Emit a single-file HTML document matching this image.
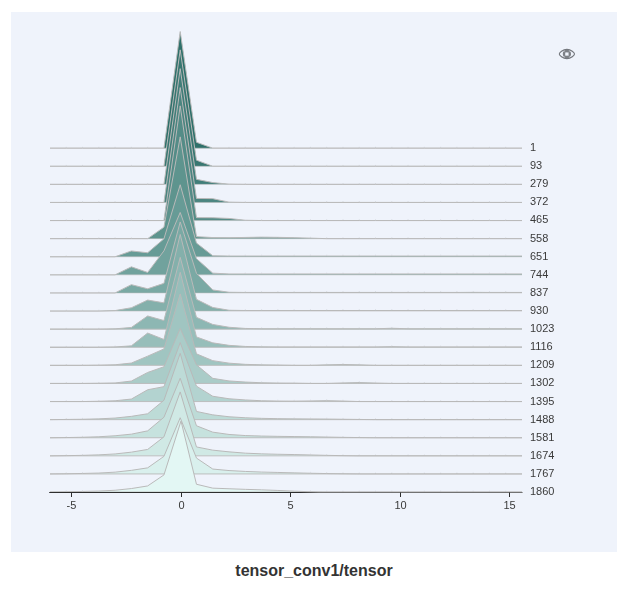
<!DOCTYPE html>
<html><head><meta charset="utf-8"><title>tensor_conv1/tensor</title>
<style>
html,body{margin:0;padding:0;background:#fff;}
body{width:629px;height:590px;position:relative;overflow:hidden;font-family:"Liberation Sans",sans-serif;}
#panel{position:absolute;left:11px;top:12px;width:606px;height:540px;background:#eff3fb;}
svg{position:absolute;left:0;top:0;will-change:transform;}
svg text{font-family:"Liberation Sans",sans-serif;font-size:11px;fill:#3a3a3a;}
#title{position:absolute;left:0;top:561px;width:628px;text-align:center;font-weight:bold;font-size:16px;line-height:20px;color:#333;}
</style></head><body>
<div id="panel"></div>
<svg width="629" height="556" viewBox="0 0 629 556">
<g id="ridges">
<polygon points="50.00,148.15 66.28,148.15 82.55,148.15 98.83,148.15 115.10,148.15 131.38,148.15 147.66,148.15 163.93,148.15 180.21,31.55 196.48,142.25 212.76,148.15 229.04,148.15 245.31,148.15 261.59,148.15 277.86,148.15 294.14,148.15 310.42,148.15 326.69,148.15 342.97,148.15 359.24,148.15 375.52,148.15 391.80,148.15 408.07,148.15 424.35,148.15 440.62,148.15 456.90,148.15 473.18,148.15 489.45,148.15 505.73,148.15 522.00,148.15 522.00,148.15 50.00,148.15" fill="#2e706a"/>
<line x1="50.00" y1="148.15" x2="522.00" y2="148.15" stroke="#b9b9b9" stroke-opacity="0.55"/>
<polyline points="50.00,148.15 66.28,148.15 82.55,148.15 98.83,148.15 115.10,148.15 131.38,148.15 147.66,148.15 163.93,148.15 180.21,31.55 196.48,142.25 212.76,148.15 229.04,148.15 245.31,148.15 261.59,148.15 277.86,148.15 294.14,148.15 310.42,148.15 326.69,148.15 342.97,148.15 359.24,148.15 375.52,148.15 391.80,148.15 408.07,148.15 424.35,148.15 440.62,148.15 456.90,148.15 473.18,148.15 489.45,148.15 505.73,148.15 522.00,148.15" fill="none" stroke="#b9b9b9" stroke-width="1" stroke-linejoin="miter"/>
<polygon points="50.00,166.25 66.28,166.25 82.55,166.25 98.83,166.25 115.10,166.25 131.38,166.25 147.66,166.25 163.93,166.25 180.21,49.85 196.48,160.15 212.76,166.25 229.04,166.25 245.31,166.25 261.59,166.25 277.86,166.25 294.14,166.25 310.42,166.25 326.69,166.25 342.97,166.25 359.24,166.25 375.52,166.25 391.80,166.25 408.07,166.25 424.35,166.25 440.62,166.25 456.90,166.25 473.18,166.25 489.45,166.25 505.73,166.25 522.00,166.25 522.00,166.25 50.00,166.25" fill="#387771"/>
<line x1="50.00" y1="166.25" x2="522.00" y2="166.25" stroke="#b9b9b9" stroke-opacity="0.55"/>
<polyline points="50.00,166.25 66.28,166.25 82.55,166.25 98.83,166.25 115.10,166.25 131.38,166.25 147.66,166.25 163.93,166.25 180.21,49.85 196.48,160.15 212.76,166.25 229.04,166.25 245.31,166.25 261.59,166.25 277.86,166.25 294.14,166.25 310.42,166.25 326.69,166.25 342.97,166.25 359.24,166.25 375.52,166.25 391.80,166.25 408.07,166.25 424.35,166.25 440.62,166.25 456.90,166.25 473.18,166.25 489.45,166.25 505.73,166.25 522.00,166.25" fill="none" stroke="#b9b9b9" stroke-width="1" stroke-linejoin="miter"/>
<polygon points="50.00,184.35 66.28,184.35 82.55,184.35 98.83,184.35 115.10,184.35 131.38,184.35 147.66,184.35 163.93,184.35 180.21,68.65 196.48,179.35 212.76,182.55 229.04,184.15 245.31,184.35 261.59,184.35 277.86,184.35 294.14,184.35 310.42,184.35 326.69,184.35 342.97,184.35 359.24,184.35 375.52,184.35 391.80,184.35 408.07,184.35 424.35,184.35 440.62,184.35 456.90,184.35 473.18,184.35 489.45,184.35 505.73,184.35 522.00,184.35 522.00,184.35 50.00,184.35" fill="#417e79"/>
<line x1="50.00" y1="184.35" x2="522.00" y2="184.35" stroke="#b9b9b9" stroke-opacity="0.55"/>
<polyline points="50.00,184.35 66.28,184.35 82.55,184.35 98.83,184.35 115.10,184.35 131.38,184.35 147.66,184.35 163.93,184.35 180.21,68.65 196.48,179.35 212.76,182.55 229.04,184.15 245.31,184.35 261.59,184.35 277.86,184.35 294.14,184.35 310.42,184.35 326.69,184.35 342.97,184.35 359.24,184.35 375.52,184.35 391.80,184.35 408.07,184.35 424.35,184.35 440.62,184.35 456.90,184.35 473.18,184.35 489.45,184.35 505.73,184.35 522.00,184.35" fill="none" stroke="#b9b9b9" stroke-width="1" stroke-linejoin="miter"/>
<polygon points="50.00,202.45 66.28,202.45 82.55,202.45 98.83,202.45 115.10,202.45 131.38,202.45 147.66,202.45 163.93,202.45 180.21,87.55 196.48,198.45 212.76,198.65 229.04,202.15 245.31,202.45 261.59,202.45 277.86,202.45 294.14,202.45 310.42,202.45 326.69,202.45 342.97,202.45 359.24,202.45 375.52,202.45 391.80,202.45 408.07,202.45 424.35,202.45 440.62,202.45 456.90,202.45 473.18,202.45 489.45,202.45 505.73,202.45 522.00,202.45 522.00,202.45 50.00,202.45" fill="#4b8580"/>
<line x1="50.00" y1="202.45" x2="522.00" y2="202.45" stroke="#b9b9b9" stroke-opacity="0.55"/>
<polyline points="50.00,202.45 66.28,202.45 82.55,202.45 98.83,202.45 115.10,202.45 131.38,202.45 147.66,202.45 163.93,202.45 180.21,87.55 196.48,198.45 212.76,198.65 229.04,202.15 245.31,202.45 261.59,202.45 277.86,202.45 294.14,202.45 310.42,202.45 326.69,202.45 342.97,202.45 359.24,202.45 375.52,202.45 391.80,202.45 408.07,202.45 424.35,202.45 440.62,202.45 456.90,202.45 473.18,202.45 489.45,202.45 505.73,202.45 522.00,202.45" fill="none" stroke="#b9b9b9" stroke-width="1" stroke-linejoin="miter"/>
<polygon points="50.00,220.55 66.28,220.55 82.55,220.55 98.83,220.55 115.10,220.55 131.38,220.55 147.66,220.55 163.93,220.55 180.21,105.85 196.48,217.65 212.76,217.75 229.04,218.45 245.31,220.25 261.59,220.55 277.86,220.55 294.14,220.55 310.42,220.55 326.69,220.55 342.97,220.55 359.24,220.55 375.52,220.55 391.80,220.55 408.07,220.55 424.35,220.55 440.62,220.55 456.90,220.55 473.18,220.55 489.45,220.55 505.73,220.55 522.00,220.55 522.00,220.55 50.00,220.55" fill="#548c87"/>
<line x1="50.00" y1="220.55" x2="522.00" y2="220.55" stroke="#b9b9b9" stroke-opacity="0.55"/>
<polyline points="50.00,220.55 66.28,220.55 82.55,220.55 98.83,220.55 115.10,220.55 131.38,220.55 147.66,220.55 163.93,220.55 180.21,105.85 196.48,217.65 212.76,217.75 229.04,218.45 245.31,220.25 261.59,220.55 277.86,220.55 294.14,220.55 310.42,220.55 326.69,220.55 342.97,220.55 359.24,220.55 375.52,220.55 391.80,220.55 408.07,220.55 424.35,220.55 440.62,220.55 456.90,220.55 473.18,220.55 489.45,220.55 505.73,220.55 522.00,220.55" fill="none" stroke="#b9b9b9" stroke-width="1" stroke-linejoin="miter"/>
<polygon points="50.00,238.65 66.28,238.65 82.55,238.65 98.83,238.65 115.10,238.65 131.38,238.65 147.66,238.65 163.93,227.15 180.21,136.85 196.48,236.65 212.76,237.55 229.04,237.65 245.31,237.45 261.59,237.15 277.86,237.35 294.14,237.65 310.42,238.15 326.69,238.65 342.97,238.65 359.24,238.65 375.52,238.65 391.80,238.65 408.07,238.65 424.35,238.65 440.62,238.65 456.90,238.65 473.18,238.65 489.45,238.65 505.73,238.65 522.00,238.65 522.00,238.65 50.00,238.65" fill="#5e948e"/>
<line x1="50.00" y1="238.65" x2="522.00" y2="238.65" stroke="#b9b9b9" stroke-opacity="0.55"/>
<polyline points="50.00,238.65 66.28,238.65 82.55,238.65 98.83,238.65 115.10,238.65 131.38,238.65 147.66,238.65 163.93,227.15 180.21,136.85 196.48,236.65 212.76,237.55 229.04,237.65 245.31,237.45 261.59,237.15 277.86,237.35 294.14,237.65 310.42,238.15 326.69,238.65 342.97,238.65 359.24,238.65 375.52,238.65 391.80,238.65 408.07,238.65 424.35,238.65 440.62,238.65 456.90,238.65 473.18,238.65 489.45,238.65 505.73,238.65 522.00,238.65" fill="none" stroke="#b9b9b9" stroke-width="1" stroke-linejoin="miter"/>
<polygon points="50.00,256.75 66.28,256.75 82.55,256.75 98.83,256.75 115.10,256.75 131.38,250.95 147.66,252.75 163.93,238.85 180.21,184.75 196.48,243.05 212.76,255.75 229.04,256.05 245.31,256.05 261.59,256.05 277.86,256.05 294.14,256.05 310.42,256.05 326.69,256.05 342.97,256.05 359.24,256.05 375.52,256.05 391.80,256.05 408.07,256.05 424.35,256.05 440.62,256.05 456.90,256.05 473.18,256.05 489.45,256.05 505.73,256.05 522.00,256.05 522.00,256.75 50.00,256.75" fill="#679b96"/>
<line x1="50.00" y1="256.75" x2="522.00" y2="256.75" stroke="#b9b9b9" stroke-opacity="0.55"/>
<polyline points="50.00,256.75 66.28,256.75 82.55,256.75 98.83,256.75 115.10,256.75 131.38,250.95 147.66,252.75 163.93,238.85 180.21,184.75 196.48,243.05 212.76,255.75 229.04,256.05 245.31,256.05 261.59,256.05 277.86,256.05 294.14,256.05 310.42,256.05 326.69,256.05 342.97,256.05 359.24,256.05 375.52,256.05 391.80,256.05 408.07,256.05 424.35,256.05 440.62,256.05 456.90,256.05 473.18,256.05 489.45,256.05 505.73,256.05 522.00,256.05" fill="none" stroke="#b9b9b9" stroke-width="1" stroke-linejoin="miter"/>
<polygon points="50.00,274.85 66.28,274.85 82.55,274.85 98.83,274.85 115.10,274.85 131.38,266.85 147.66,272.45 163.93,250.85 180.21,212.45 196.48,258.65 212.76,273.15 229.04,273.95 245.31,273.95 261.59,273.95 277.86,273.95 294.14,273.95 310.42,273.95 326.69,273.95 342.97,273.95 359.24,273.95 375.52,273.95 391.80,273.95 408.07,273.95 424.35,273.95 440.62,273.95 456.90,273.95 473.18,273.95 489.45,273.95 505.73,273.95 522.00,273.95 522.00,274.85 50.00,274.85" fill="#71a29d"/>
<line x1="50.00" y1="274.85" x2="522.00" y2="274.85" stroke="#b9b9b9" stroke-opacity="0.55"/>
<polyline points="50.00,274.85 66.28,274.85 82.55,274.85 98.83,274.85 115.10,274.85 131.38,266.85 147.66,272.45 163.93,250.85 180.21,212.45 196.48,258.65 212.76,273.15 229.04,273.95 245.31,273.95 261.59,273.95 277.86,273.95 294.14,273.95 310.42,273.95 326.69,273.95 342.97,273.95 359.24,273.95 375.52,273.95 391.80,273.95 408.07,273.95 424.35,273.95 440.62,273.95 456.90,273.95 473.18,273.95 489.45,273.95 505.73,273.95 522.00,273.95" fill="none" stroke="#b9b9b9" stroke-width="1" stroke-linejoin="miter"/>
<polygon points="50.00,292.95 66.28,292.95 82.55,292.95 98.83,292.95 115.10,292.95 131.38,284.65 147.66,288.75 163.93,283.35 180.21,221.95 196.48,273.35 212.76,289.95 229.04,292.25 245.31,292.45 261.59,292.45 277.86,292.45 294.14,292.45 310.42,292.45 326.69,292.45 342.97,292.45 359.24,292.45 375.52,292.45 391.80,292.45 408.07,292.45 424.35,292.45 440.62,292.45 456.90,292.45 473.18,292.35 489.45,292.45 505.73,292.45 522.00,292.45 522.00,292.95 50.00,292.95" fill="#7aa9a4"/>
<line x1="50.00" y1="292.95" x2="522.00" y2="292.95" stroke="#b9b9b9" stroke-opacity="0.55"/>
<polyline points="50.00,292.95 66.28,292.95 82.55,292.95 98.83,292.95 115.10,292.95 131.38,284.65 147.66,288.75 163.93,283.35 180.21,221.95 196.48,273.35 212.76,289.95 229.04,292.25 245.31,292.45 261.59,292.45 277.86,292.45 294.14,292.45 310.42,292.45 326.69,292.45 342.97,292.45 359.24,292.45 375.52,292.45 391.80,292.45 408.07,292.45 424.35,292.45 440.62,292.45 456.90,292.45 473.18,292.35 489.45,292.45 505.73,292.45 522.00,292.45" fill="none" stroke="#b9b9b9" stroke-width="1" stroke-linejoin="miter"/>
<polygon points="50.00,311.05 66.28,311.05 82.55,311.05 98.83,311.05 115.10,310.55 131.38,307.75 147.66,300.05 163.93,302.85 180.21,234.45 196.48,299.35 212.76,307.45 229.04,310.25 245.31,310.50 261.59,310.50 277.86,310.50 294.14,310.50 310.42,310.50 326.69,310.50 342.97,310.50 359.24,310.50 375.52,310.50 391.80,310.50 408.07,310.50 424.35,310.50 440.62,310.50 456.90,310.50 473.18,310.50 489.45,310.50 505.73,310.50 522.00,310.50 522.00,311.05 50.00,311.05" fill="#84b0ab"/>
<line x1="50.00" y1="311.05" x2="522.00" y2="311.05" stroke="#b9b9b9" stroke-opacity="0.55"/>
<polyline points="50.00,311.05 66.28,311.05 82.55,311.05 98.83,311.05 115.10,310.55 131.38,307.75 147.66,300.05 163.93,302.85 180.21,234.45 196.48,299.35 212.76,307.45 229.04,310.25 245.31,310.50 261.59,310.50 277.86,310.50 294.14,310.50 310.42,310.50 326.69,310.50 342.97,310.50 359.24,310.50 375.52,310.50 391.80,310.50 408.07,310.50 424.35,310.50 440.62,310.50 456.90,310.50 473.18,310.50 489.45,310.50 505.73,310.50 522.00,310.50" fill="none" stroke="#b9b9b9" stroke-width="1" stroke-linejoin="miter"/>
<polygon points="50.00,329.15 66.28,329.15 82.55,329.15 98.83,329.15 115.10,328.85 131.38,327.45 147.66,315.95 163.93,320.55 180.21,257.35 196.48,317.35 212.76,324.45 229.04,327.25 245.31,328.45 261.59,328.75 277.86,328.75 294.14,328.75 310.42,328.75 326.69,328.75 342.97,328.75 359.24,328.75 375.52,328.75 391.80,328.25 408.07,328.75 424.35,328.75 440.62,328.75 456.90,328.75 473.18,328.75 489.45,328.75 505.73,328.75 522.00,328.75 522.00,329.15 50.00,329.15" fill="#8db7b3"/>
<line x1="50.00" y1="329.15" x2="522.00" y2="329.15" stroke="#b9b9b9" stroke-opacity="0.9"/>
<polyline points="50.00,329.15 66.28,329.15 82.55,329.15 98.83,329.15 115.10,328.85 131.38,327.45 147.66,315.95 163.93,320.55 180.21,257.35 196.48,317.35 212.76,324.45 229.04,327.25 245.31,328.45 261.59,328.75 277.86,328.75 294.14,328.75 310.42,328.75 326.69,328.75 342.97,328.75 359.24,328.75 375.52,328.75 391.80,328.25 408.07,328.75 424.35,328.75 440.62,328.75 456.90,328.75 473.18,328.75 489.45,328.75 505.73,328.75 522.00,328.75" fill="none" stroke="#b9b9b9" stroke-width="1" stroke-linejoin="miter"/>
<polygon points="50.00,347.25 66.28,347.25 82.55,347.25 98.83,347.25 115.10,346.95 131.38,345.85 147.66,333.05 163.93,339.45 180.21,272.25 196.48,336.95 212.76,342.85 229.04,345.35 245.31,346.45 261.59,346.85 277.86,346.95 294.14,346.95 310.42,346.95 326.69,346.95 342.97,346.95 359.24,346.95 375.52,346.95 391.80,346.65 408.07,346.95 424.35,346.95 440.62,346.95 456.90,346.95 473.18,346.95 489.45,346.95 505.73,346.95 522.00,346.95 522.00,347.25 50.00,347.25" fill="#97beba"/>
<line x1="50.00" y1="347.25" x2="522.00" y2="347.25" stroke="#b9b9b9" stroke-opacity="0.9"/>
<polyline points="50.00,347.25 66.28,347.25 82.55,347.25 98.83,347.25 115.10,346.95 131.38,345.85 147.66,333.05 163.93,339.45 180.21,272.25 196.48,336.95 212.76,342.85 229.04,345.35 245.31,346.45 261.59,346.85 277.86,346.95 294.14,346.95 310.42,346.95 326.69,346.95 342.97,346.95 359.24,346.95 375.52,346.95 391.80,346.65 408.07,346.95 424.35,346.95 440.62,346.95 456.90,346.95 473.18,346.95 489.45,346.95 505.73,346.95 522.00,346.95" fill="none" stroke="#b9b9b9" stroke-width="1" stroke-linejoin="miter"/>
<polygon points="50.00,365.35 66.28,365.35 82.55,365.35 98.83,365.15 115.10,364.75 131.38,363.05 147.66,356.15 163.93,348.95 180.21,293.85 196.48,353.85 212.76,360.65 229.04,363.15 245.31,364.35 261.59,364.85 277.86,365.05 294.14,365.35 310.42,365.35 326.69,364.85 342.97,364.45 359.24,364.85 375.52,365.35 391.80,365.35 408.07,365.35 424.35,365.35 440.62,365.35 456.90,365.35 473.18,365.35 489.45,365.35 505.73,365.35 522.00,365.35 522.00,365.35 50.00,365.35" fill="#a0c5c1"/>
<line x1="50.00" y1="365.35" x2="522.00" y2="365.35" stroke="#b9b9b9" stroke-opacity="0.9"/>
<polyline points="50.00,365.35 66.28,365.35 82.55,365.35 98.83,365.15 115.10,364.75 131.38,363.05 147.66,356.15 163.93,348.95 180.21,293.85 196.48,353.85 212.76,360.65 229.04,363.15 245.31,364.35 261.59,364.85 277.86,365.05 294.14,365.35 310.42,365.35 326.69,364.85 342.97,364.45 359.24,364.85 375.52,365.35 391.80,365.35 408.07,365.35 424.35,365.35 440.62,365.35 456.90,365.35 473.18,365.35 489.45,365.35 505.73,365.35 522.00,365.35" fill="none" stroke="#b9b9b9" stroke-width="1" stroke-linejoin="miter"/>
<polygon points="50.00,383.45 66.28,383.45 82.55,383.45 98.83,383.25 115.10,382.95 131.38,381.05 147.66,372.45 163.93,366.75 180.21,328.45 196.48,364.85 212.76,378.35 229.04,380.95 245.31,382.05 261.59,382.75 277.86,383.05 294.14,383.15 310.42,383.45 326.69,383.45 342.97,382.95 359.24,382.55 375.52,383.05 391.80,383.45 408.07,383.45 424.35,383.45 440.62,383.45 456.90,383.45 473.18,383.45 489.45,383.45 505.73,383.45 522.00,383.45 522.00,383.45 50.00,383.45" fill="#aaccc8"/>
<line x1="50.00" y1="383.45" x2="522.00" y2="383.45" stroke="#b9b9b9" stroke-opacity="0.9"/>
<polyline points="50.00,383.45 66.28,383.45 82.55,383.45 98.83,383.25 115.10,382.95 131.38,381.05 147.66,372.45 163.93,366.75 180.21,328.45 196.48,364.85 212.76,378.35 229.04,380.95 245.31,382.05 261.59,382.75 277.86,383.05 294.14,383.15 310.42,383.45 326.69,383.45 342.97,382.95 359.24,382.55 375.52,383.05 391.80,383.45 408.07,383.45 424.35,383.45 440.62,383.45 456.90,383.45 473.18,383.45 489.45,383.45 505.73,383.45 522.00,383.45" fill="none" stroke="#b9b9b9" stroke-width="1" stroke-linejoin="miter"/>
<polygon points="50.00,401.55 66.28,401.55 82.55,401.55 98.83,401.25 115.10,400.75 131.38,399.05 147.66,389.75 163.93,386.65 180.21,342.65 196.48,386.15 212.76,396.25 229.04,398.75 245.31,399.95 261.59,400.75 277.86,401.05 294.14,401.15 310.42,400.95 326.69,400.65 342.97,401.05 359.24,401.55 375.52,401.55 391.80,401.55 408.07,401.55 424.35,401.55 440.62,401.55 456.90,401.55 473.18,401.55 489.45,401.55 505.73,401.55 522.00,401.55 522.00,401.55 50.00,401.55" fill="#b3d3d0"/>
<line x1="50.00" y1="401.55" x2="522.00" y2="401.55" stroke="#b9b9b9" stroke-opacity="0.9"/>
<polyline points="50.00,401.55 66.28,401.55 82.55,401.55 98.83,401.25 115.10,400.75 131.38,399.05 147.66,389.75 163.93,386.65 180.21,342.65 196.48,386.15 212.76,396.25 229.04,398.75 245.31,399.95 261.59,400.75 277.86,401.05 294.14,401.15 310.42,400.95 326.69,400.65 342.97,401.05 359.24,401.55 375.52,401.55 391.80,401.55 408.07,401.55 424.35,401.55 440.62,401.55 456.90,401.55 473.18,401.55 489.45,401.55 505.73,401.55 522.00,401.55" fill="none" stroke="#b9b9b9" stroke-width="1" stroke-linejoin="miter"/>
<polygon points="50.00,419.65 66.28,419.45 82.55,419.25 98.83,418.85 115.10,418.05 131.38,416.35 147.66,413.75 163.93,400.25 180.21,353.35 196.48,411.45 212.76,414.85 229.04,416.75 245.31,417.75 261.59,418.35 277.86,418.65 294.14,418.85 310.42,418.95 326.69,419.05 342.97,419.25 359.24,419.45 375.52,419.65 391.80,419.65 408.07,419.65 424.35,419.65 440.62,419.65 456.90,419.65 473.18,419.65 489.45,419.65 505.73,419.65 522.00,419.65 522.00,419.65 50.00,419.65" fill="#bddbd7"/>
<line x1="50.00" y1="419.65" x2="522.00" y2="419.65" stroke="#b9b9b9" stroke-opacity="0.9"/>
<polyline points="50.00,419.65 66.28,419.45 82.55,419.25 98.83,418.85 115.10,418.05 131.38,416.35 147.66,413.75 163.93,400.25 180.21,353.35 196.48,411.45 212.76,414.85 229.04,416.75 245.31,417.75 261.59,418.35 277.86,418.65 294.14,418.85 310.42,418.95 326.69,419.05 342.97,419.25 359.24,419.45 375.52,419.65 391.80,419.65 408.07,419.65 424.35,419.65 440.62,419.65 456.90,419.65 473.18,419.65 489.45,419.65 505.73,419.65 522.00,419.65" fill="none" stroke="#b9b9b9" stroke-width="1" stroke-linejoin="miter"/>
<polygon points="50.00,437.75 66.28,437.55 82.55,437.25 98.83,436.75 115.10,435.75 131.38,434.15 147.66,430.85 163.93,417.25 180.21,378.25 196.48,425.75 212.76,432.15 229.04,434.45 245.31,435.55 261.59,436.05 277.86,436.35 294.14,436.55 310.42,436.75 326.69,437.05 342.97,437.35 359.24,437.55 375.52,437.75 391.80,437.75 408.07,437.75 424.35,437.75 440.62,437.75 456.90,437.75 473.18,437.75 489.45,437.75 505.73,437.75 522.00,437.75 522.00,437.75 50.00,437.75" fill="#c6e2de"/>
<line x1="50.00" y1="437.75" x2="522.00" y2="437.75" stroke="#b9b9b9" stroke-opacity="0.9"/>
<polyline points="50.00,437.75 66.28,437.55 82.55,437.25 98.83,436.75 115.10,435.75 131.38,434.15 147.66,430.85 163.93,417.25 180.21,378.25 196.48,425.75 212.76,432.15 229.04,434.45 245.31,435.55 261.59,436.05 277.86,436.35 294.14,436.55 310.42,436.75 326.69,437.05 342.97,437.35 359.24,437.55 375.52,437.75 391.80,437.75 408.07,437.75 424.35,437.75 440.62,437.75 456.90,437.75 473.18,437.75 489.45,437.75 505.73,437.75 522.00,437.75" fill="none" stroke="#b9b9b9" stroke-width="1" stroke-linejoin="miter"/>
<polygon points="50.00,455.85 66.28,455.65 82.55,455.35 98.83,454.85 115.10,453.95 131.38,452.15 147.66,449.45 163.93,436.85 180.21,391.95 196.48,446.95 212.76,450.15 229.04,451.85 245.31,453.15 261.59,453.85 277.86,454.25 294.14,454.55 310.42,454.95 326.69,455.35 342.97,455.65 359.24,455.85 375.52,455.85 391.80,455.85 408.07,455.85 424.35,455.85 440.62,455.85 456.90,455.85 473.18,455.85 489.45,455.85 505.73,455.85 522.00,455.85 522.00,455.85 50.00,455.85" fill="#d0e9e5"/>
<line x1="50.00" y1="455.85" x2="522.00" y2="455.85" stroke="#b9b9b9" stroke-opacity="0.9"/>
<polyline points="50.00,455.85 66.28,455.65 82.55,455.35 98.83,454.85 115.10,453.95 131.38,452.15 147.66,449.45 163.93,436.85 180.21,391.95 196.48,446.95 212.76,450.15 229.04,451.85 245.31,453.15 261.59,453.85 277.86,454.25 294.14,454.55 310.42,454.95 326.69,455.35 342.97,455.65 359.24,455.85 375.52,455.85 391.80,455.85 408.07,455.85 424.35,455.85 440.62,455.85 456.90,455.85 473.18,455.85 489.45,455.85 505.73,455.85 522.00,455.85" fill="none" stroke="#b9b9b9" stroke-width="1" stroke-linejoin="miter"/>
<polygon points="50.00,473.95 66.28,473.75 82.55,473.45 98.83,473.05 115.10,472.15 131.38,470.35 147.66,467.85 163.93,456.35 180.21,417.75 196.48,458.05 212.76,469.05 229.04,470.55 245.31,471.45 261.59,472.05 277.86,472.45 294.14,472.85 310.42,473.25 326.69,473.55 342.97,473.75 359.24,473.95 375.52,473.95 391.80,473.95 408.07,473.95 424.35,473.95 440.62,473.95 456.90,473.95 473.18,473.95 489.45,473.95 505.73,473.95 522.00,473.95 522.00,473.95 50.00,473.95" fill="#d9f0ed"/>
<line x1="50.00" y1="473.95" x2="522.00" y2="473.95" stroke="#b9b9b9" stroke-opacity="0.9"/>
<polyline points="50.00,473.95 66.28,473.75 82.55,473.45 98.83,473.05 115.10,472.15 131.38,470.35 147.66,467.85 163.93,456.35 180.21,417.75 196.48,458.05 212.76,469.05 229.04,470.55 245.31,471.45 261.59,472.05 277.86,472.45 294.14,472.85 310.42,473.25 326.69,473.55 342.97,473.75 359.24,473.95 375.52,473.95 391.80,473.95 408.07,473.95 424.35,473.95 440.62,473.95 456.90,473.95 473.18,473.95 489.45,473.95 505.73,473.95 522.00,473.95" fill="none" stroke="#b9b9b9" stroke-width="1" stroke-linejoin="miter"/>
<polygon points="50.00,492.05 66.28,491.75 82.55,491.45 98.83,491.05 115.10,490.25 131.38,488.55 147.66,485.95 163.93,474.95 181.01,421.05 196.48,484.25 212.76,488.15 229.04,488.75 245.31,489.35 261.59,489.85 277.86,490.45 294.14,491.15 310.42,491.75 326.69,492.05 342.97,492.05 359.24,492.05 375.52,492.05 391.80,492.05 408.07,492.05 424.35,492.05 440.62,492.05 456.90,492.05 473.18,492.05 489.45,492.05 505.73,492.05 522.00,492.05 522.00,492.05 50.00,492.05" fill="#e3f7f4"/>
<line x1="50.00" y1="492.05" x2="522.00" y2="492.05" stroke="#b9b9b9" stroke-opacity="0.9"/>
<polyline points="50.00,492.05 66.28,491.75 82.55,491.45 98.83,491.05 115.10,490.25 131.38,488.55 147.66,485.95 163.93,474.95 181.01,421.05 196.48,484.25 212.76,488.15 229.04,488.75 245.31,489.35 261.59,489.85 277.86,490.45 294.14,491.15 310.42,491.75 326.69,492.05 342.97,492.05 359.24,492.05 375.52,492.05 391.80,492.05 408.07,492.05 424.35,492.05 440.62,492.05 456.90,492.05 473.18,492.05 489.45,492.05 505.73,492.05 522.00,492.05" fill="none" stroke="#b9b9b9" stroke-width="1" stroke-linejoin="miter"/>
<path d="M66.28,147.70v-0.9M82.55,147.70v-0.9M98.83,147.70v-0.9M115.10,147.70v-0.9M131.38,147.70v-0.9M147.66,147.70v-0.9M229.04,147.70v-0.9M245.31,147.70v-0.9M261.59,147.70v-0.9M277.86,147.70v-0.9M294.14,147.70v-0.9M310.42,147.70v-0.9M326.69,147.70v-0.9M342.97,147.70v-0.9M359.24,147.70v-0.9M375.52,147.70v-0.9M391.80,147.70v-0.9M408.07,147.70v-0.9M424.35,147.70v-0.9M440.62,147.70v-0.9M456.90,147.70v-0.9M473.18,147.70v-0.9M489.45,147.70v-0.9M505.73,147.70v-0.9M66.28,165.80v-0.9M82.55,165.80v-0.9M98.83,165.80v-0.9M115.10,165.80v-0.9M131.38,165.80v-0.9M147.66,165.80v-0.9M229.04,165.80v-0.9M245.31,165.80v-0.9M261.59,165.80v-0.9M277.86,165.80v-0.9M294.14,165.80v-0.9M310.42,165.80v-0.9M326.69,165.80v-0.9M342.97,165.80v-0.9M359.24,165.80v-0.9M375.52,165.80v-0.9M391.80,165.80v-0.9M408.07,165.80v-0.9M424.35,165.80v-0.9M440.62,165.80v-0.9M456.90,165.80v-0.9M473.18,165.80v-0.9M489.45,165.80v-0.9M505.73,165.80v-0.9M66.28,183.90v-0.9M82.55,183.90v-0.9M98.83,183.90v-0.9M115.10,183.90v-0.9M131.38,183.90v-0.9M147.66,183.90v-0.9M245.31,183.90v-0.9M261.59,183.90v-0.9M277.86,183.90v-0.9M294.14,183.90v-0.9M310.42,183.90v-0.9M326.69,183.90v-0.9M342.97,183.90v-0.9M359.24,183.90v-0.9M375.52,183.90v-0.9M391.80,183.90v-0.9M408.07,183.90v-0.9M424.35,183.90v-0.9M440.62,183.90v-0.9M456.90,183.90v-0.9M473.18,183.90v-0.9M489.45,183.90v-0.9M505.73,183.90v-0.9M66.28,202.00v-0.9M82.55,202.00v-0.9M98.83,202.00v-0.9M115.10,202.00v-0.9M131.38,202.00v-0.9M147.66,202.00v-0.9M245.31,202.00v-0.9M261.59,202.00v-0.9M277.86,202.00v-0.9M294.14,202.00v-0.9M310.42,202.00v-0.9M326.69,202.00v-0.9M342.97,202.00v-0.9M359.24,202.00v-0.9M375.52,202.00v-0.9M391.80,202.00v-0.9M408.07,202.00v-0.9M424.35,202.00v-0.9M440.62,202.00v-0.9M456.90,202.00v-0.9M473.18,202.00v-0.9M489.45,202.00v-0.9M505.73,202.00v-0.9M66.28,220.10v-0.9M82.55,220.10v-0.9M98.83,220.10v-0.9M115.10,220.10v-0.9M131.38,220.10v-0.9M147.66,220.10v-0.9M261.59,220.10v-0.9M277.86,220.10v-0.9M294.14,220.10v-0.9M310.42,220.10v-0.9M326.69,220.10v-0.9M342.97,220.10v-0.9M359.24,220.10v-0.9M375.52,220.10v-0.9M391.80,220.10v-0.9M408.07,220.10v-0.9M424.35,220.10v-0.9M440.62,220.10v-0.9M456.90,220.10v-0.9M473.18,220.10v-0.9M489.45,220.10v-0.9M505.73,220.10v-0.9M66.28,238.20v-0.9M82.55,238.20v-0.9M98.83,238.20v-0.9M115.10,238.20v-0.9M131.38,238.20v-0.9M310.42,237.70v-0.9M326.69,238.20v-0.9M342.97,238.20v-0.9M359.24,238.20v-0.9M375.52,238.20v-0.9M391.80,238.20v-0.9M408.07,238.20v-0.9M424.35,238.20v-0.9M440.62,238.20v-0.9M456.90,238.20v-0.9M473.18,238.20v-0.9M489.45,238.20v-0.9M505.73,238.20v-0.9M66.28,256.30v-0.9M82.55,256.30v-0.9M98.83,256.30v-0.9M229.04,255.60v-0.9M245.31,255.60v-0.9M261.59,255.60v-0.9M277.86,255.60v-0.9M294.14,255.60v-0.9M310.42,255.60v-0.9M326.69,255.60v-0.9M342.97,255.60v-0.9M359.24,255.60v-0.9M375.52,255.60v-0.9M391.80,255.60v-0.9M408.07,255.60v-0.9M424.35,255.60v-0.9M440.62,255.60v-0.9M456.90,255.60v-0.9M473.18,255.60v-0.9M489.45,255.60v-0.9M505.73,255.60v-0.9M66.28,274.40v-0.9M82.55,274.40v-0.9M98.83,274.40v-0.9M245.31,273.50v-0.9M261.59,273.50v-0.9M277.86,273.50v-0.9M294.14,273.50v-0.9M310.42,273.50v-0.9M326.69,273.50v-0.9M342.97,273.50v-0.9M359.24,273.50v-0.9M375.52,273.50v-0.9M391.80,273.50v-0.9M408.07,273.50v-0.9M424.35,273.50v-0.9M440.62,273.50v-0.9M456.90,273.50v-0.9M473.18,273.50v-0.9M489.45,273.50v-0.9M505.73,273.50v-0.9M66.28,292.50v-0.9M82.55,292.50v-0.9M98.83,292.50v-0.9M245.31,292.00v-0.9M261.59,292.00v-0.9M277.86,292.00v-0.9M294.14,292.00v-0.9M310.42,292.00v-0.9M326.69,292.00v-0.9M342.97,292.00v-0.9M359.24,292.00v-0.9M375.52,292.00v-0.9M391.80,292.00v-0.9M408.07,292.00v-0.9M424.35,292.00v-0.9M440.62,292.00v-0.9M456.90,292.00v-0.9M473.18,291.90v-0.9M489.45,292.00v-0.9M505.73,292.00v-0.9M66.28,310.60v-0.9M82.55,310.60v-0.9M98.83,310.60v-0.9M245.31,310.05v-0.9M261.59,310.05v-0.9M277.86,310.05v-0.9M294.14,310.05v-0.9M310.42,310.05v-0.9M326.69,310.05v-0.9M342.97,310.05v-0.9M359.24,310.05v-0.9M375.52,310.05v-0.9M391.80,310.05v-0.9M408.07,310.05v-0.9M424.35,310.05v-0.9M440.62,310.05v-0.9M456.90,310.05v-0.9M473.18,310.05v-0.9M489.45,310.05v-0.9M505.73,310.05v-0.9M66.28,328.70v-0.9M82.55,328.70v-0.9M98.83,328.70v-0.9M261.59,328.30v-0.9M277.86,328.30v-0.9M294.14,328.30v-0.9M310.42,328.30v-0.9M326.69,328.30v-0.9M342.97,328.30v-0.9M359.24,328.30v-0.9M375.52,328.30v-0.9M391.80,327.80v-0.9M408.07,328.30v-0.9M424.35,328.30v-0.9M440.62,328.30v-0.9M456.90,328.30v-0.9M473.18,328.30v-0.9M489.45,328.30v-0.9M505.73,328.30v-0.9M66.28,346.80v-0.9M82.55,346.80v-0.9M98.83,346.80v-0.9M115.10,346.50v-0.9M261.59,346.40v-0.9M277.86,346.50v-0.9M294.14,346.50v-0.9M310.42,346.50v-0.9M326.69,346.50v-0.9M342.97,346.50v-0.9M359.24,346.50v-0.9M375.52,346.50v-0.9M391.80,346.20v-0.9M408.07,346.50v-0.9M424.35,346.50v-0.9M440.62,346.50v-0.9M456.90,346.50v-0.9M473.18,346.50v-0.9M489.45,346.50v-0.9M505.73,346.50v-0.9M66.28,364.90v-0.9M82.55,364.90v-0.9M98.83,364.70v-0.9M261.59,364.40v-0.9M277.86,364.60v-0.9M294.14,364.90v-0.9M310.42,364.90v-0.9M326.69,364.40v-0.9M342.97,364.00v-0.9M359.24,364.40v-0.9M375.52,364.90v-0.9M391.80,364.90v-0.9M408.07,364.90v-0.9M424.35,364.90v-0.9M440.62,364.90v-0.9M456.90,364.90v-0.9M473.18,364.90v-0.9M489.45,364.90v-0.9M505.73,364.90v-0.9M66.28,383.00v-0.9M82.55,383.00v-0.9M98.83,382.80v-0.9M261.59,382.30v-0.9M277.86,382.60v-0.9M294.14,382.70v-0.9M310.42,383.00v-0.9M326.69,383.00v-0.9M342.97,382.50v-0.9M359.24,382.10v-0.9M375.52,382.60v-0.9M391.80,383.00v-0.9M408.07,383.00v-0.9M424.35,383.00v-0.9M440.62,383.00v-0.9M456.90,383.00v-0.9M473.18,383.00v-0.9M489.45,383.00v-0.9M505.73,383.00v-0.9M66.28,401.10v-0.9M82.55,401.10v-0.9M98.83,400.80v-0.9M277.86,400.60v-0.9M294.14,400.70v-0.9M310.42,400.50v-0.9M326.69,400.20v-0.9M342.97,400.60v-0.9M359.24,401.10v-0.9M375.52,401.10v-0.9M391.80,401.10v-0.9M408.07,401.10v-0.9M424.35,401.10v-0.9M440.62,401.10v-0.9M456.90,401.10v-0.9M473.18,401.10v-0.9M489.45,401.10v-0.9M505.73,401.10v-0.9M66.28,419.00v-0.9M82.55,418.80v-0.9M294.14,418.40v-0.9M310.42,418.50v-0.9M326.69,418.60v-0.9M342.97,418.80v-0.9M359.24,419.00v-0.9M375.52,419.20v-0.9M391.80,419.20v-0.9M408.07,419.20v-0.9M424.35,419.20v-0.9M440.62,419.20v-0.9M456.90,419.20v-0.9M473.18,419.20v-0.9M489.45,419.20v-0.9M505.73,419.20v-0.9M66.28,437.10v-0.9M82.55,436.80v-0.9M326.69,436.60v-0.9M342.97,436.90v-0.9M359.24,437.10v-0.9M375.52,437.30v-0.9M391.80,437.30v-0.9M408.07,437.30v-0.9M424.35,437.30v-0.9M440.62,437.30v-0.9M456.90,437.30v-0.9M473.18,437.30v-0.9M489.45,437.30v-0.9M505.73,437.30v-0.9M66.28,455.20v-0.9M82.55,454.90v-0.9M310.42,454.50v-0.9M326.69,454.90v-0.9M342.97,455.20v-0.9M359.24,455.40v-0.9M375.52,455.40v-0.9M391.80,455.40v-0.9M408.07,455.40v-0.9M424.35,455.40v-0.9M440.62,455.40v-0.9M456.90,455.40v-0.9M473.18,455.40v-0.9M489.45,455.40v-0.9M505.73,455.40v-0.9M66.28,473.30v-0.9M82.55,473.00v-0.9M310.42,472.80v-0.9M326.69,473.10v-0.9M342.97,473.30v-0.9M359.24,473.50v-0.9M375.52,473.50v-0.9M391.80,473.50v-0.9M408.07,473.50v-0.9M424.35,473.50v-0.9M440.62,473.50v-0.9M456.90,473.50v-0.9M473.18,473.50v-0.9M489.45,473.50v-0.9M505.73,473.50v-0.9M66.28,491.30v-0.9M82.55,491.00v-0.9M310.42,491.30v-0.9M326.69,491.60v-0.9M342.97,491.60v-0.9M359.24,491.60v-0.9M375.52,491.60v-0.9M391.80,491.60v-0.9M408.07,491.60v-0.9M424.35,491.60v-0.9M440.62,491.60v-0.9M456.90,491.60v-0.9M473.18,491.60v-0.9M489.45,491.60v-0.9M505.73,491.60v-0.9" stroke="#8a8a8a" stroke-opacity="0.2" stroke-width="1" fill="none"/>
</g>
<g id="ylabels">
<text x="529.9" y="151">1</text>
<text x="529.9" y="169">93</text>
<text x="529.9" y="187">279</text>
<text x="529.9" y="205">372</text>
<text x="529.9" y="223">465</text>
<text x="529.9" y="242">558</text>
<text x="529.9" y="260">651</text>
<text x="529.9" y="278">744</text>
<text x="529.9" y="296">837</text>
<text x="529.9" y="314">930</text>
<text x="529.9" y="332">1023</text>
<text x="529.9" y="350">1116</text>
<text x="529.9" y="368">1209</text>
<text x="529.9" y="386">1302</text>
<text x="529.9" y="405">1395</text>
<text x="529.9" y="423">1488</text>
<text x="529.9" y="441">1581</text>
<text x="529.9" y="459">1674</text>
<text x="529.9" y="477">1767</text>
<text x="529.9" y="495">1860</text>
</g>
<g id="xaxis">
<defs><linearGradient id="axg" gradientUnits="userSpaceOnUse" x1="49.2" y1="0" x2="522.6" y2="0"><stop offset="0" stop-color="#2e2e2e"/><stop offset="0.53" stop-color="#2e2e2e"/><stop offset="0.57" stop-color="#727272"/><stop offset="1" stop-color="#727272"/></linearGradient></defs>
<rect x="49.2" y="492" width="473.4" height="1" fill="url(#axg)"/>
<line x1="71.5" y1="492.5" x2="71.5" y2="497" stroke="#2e2e2e" stroke-width="1"/>
<text x="71.5" y="509" text-anchor="middle">-5</text>
<line x1="181.5" y1="492.5" x2="181.5" y2="497" stroke="#2e2e2e" stroke-width="1"/>
<text x="181.5" y="509" text-anchor="middle">0</text>
<line x1="290.5" y1="492.5" x2="290.5" y2="497" stroke="#2e2e2e" stroke-width="1"/>
<text x="290.5" y="509" text-anchor="middle">5</text>
<line x1="400.5" y1="492.5" x2="400.5" y2="497" stroke="#2e2e2e" stroke-width="1"/>
<text x="400.5" y="509" text-anchor="middle">10</text>
<line x1="509.5" y1="492.5" x2="509.5" y2="497" stroke="#2e2e2e" stroke-width="1"/>
<text x="509.5" y="509" text-anchor="middle">15</text>
</g>
<g transform="translate(566.9,54.0)" fill="none" stroke="#73767c" stroke-width="1.1">
<path d="M-7.6,0 C-7.6,-1.2 -4.2,-4.65 0,-4.65 C4.2,-4.65 7.6,-1.2 7.6,0 C7.6,1.2 4.2,4.65 0,4.65 C-4.2,4.65 -7.6,1.2 -7.6,0 Z"/>
<circle cx="0" cy="0" r="3" stroke-width="2.3" stroke="#7d8086"/>
<path d="M-3.1,-3.1 L3.1,3.1 M-3.1,3.1 L3.1,-3.1" stroke="#eff3fb" stroke-width="0.7" stroke-opacity="0.45"/>
</g>
</svg>
<div id="title">tensor_conv1/tensor</div>
</body></html>
